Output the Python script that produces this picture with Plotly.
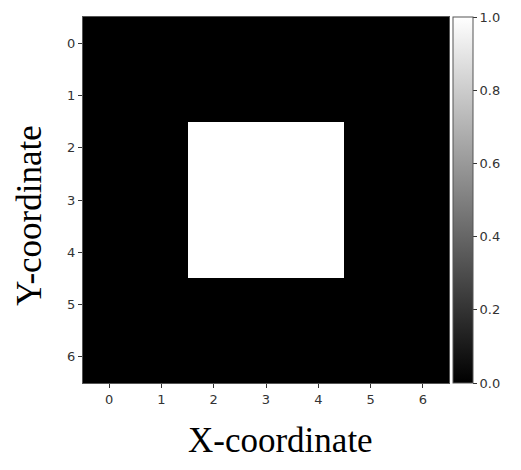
import plotly.graph_objects as go

x_ticks = [0, 1, 2, 3, 4, 5, 6]
y_ticks = [0, 1, 2, 3, 4, 5, 6]
z_values = [
    [0, 0, 0, 0, 0, 0, 0],
    [0, 0, 0, 0, 0, 0, 0],
    [0, 0, 1, 1, 1, 0, 0],
    [0, 0, 1, 1, 1, 0, 0],
    [0, 0, 1, 1, 1, 0, 0],
    [0, 0, 0, 0, 0, 0, 0],
    [0, 0, 0, 0, 0, 0, 0],
]
cbar_ticks = [0.0, 0.2, 0.4, 0.6, 0.8, 1.0]

W, H = 521, 470
L, R, T, B = 83, 449, 17, 383

tickfont = dict(family="DejaVu Sans", size=13, color="#333333")

fig = go.Figure(go.Heatmap(
    z=z_values, x=x_ticks, y=y_ticks,
    colorscale=[[0, "#000000"], [1, "#ffffff"]],
    zmin=0, zmax=1,
    colorbar=dict(
        xref="container", x=453 / W, xanchor="left", xpad=0,
        yref="paper", y=0.5, yanchor="middle", ypad=0,
        thickness=20, thicknessmode="pixels",
        len=B - T, lenmode="pixels",
        outlinewidth=1, outlinecolor="#555555",
        ticks="outside", ticklen=4, tickwidth=1, tickcolor="#333333",
        tickvals=cbar_ticks, ticktext=[f"{v:.1f}" for v in cbar_ticks],
        tickfont=tickfont,
    ),
))

axis_common = dict(
    showgrid=False, zeroline=False,
    ticks="outside", ticklen=4, tickwidth=1, tickcolor="#333333",
    showline=True, linecolor="#555555", linewidth=1, mirror=True,
    tickfont=tickfont,
)
fig.update_xaxes(range=[-0.5, 6.5], tickvals=x_ticks, **axis_common)
fig.update_yaxes(range=[6.5, -0.5], tickvals=y_ticks, **axis_common)

fig.add_annotation(
    text="X-coordinate", xref="paper", yref="paper",
    x=(280 - L) / (R - L), y=(B - 440) / (B - T),
    xanchor="center", yanchor="middle", showarrow=False,
    font=dict(family="Liberation Serif", size=35, color="#000000"),
)
fig.add_annotation(
    text="Y-coordinate", xref="paper", yref="paper",
    x=(29 - L) / (R - L), y=(B - 216) / (B - T),
    xanchor="center", yanchor="middle", showarrow=False, textangle=-90,
    font=dict(family="Liberation Serif", size=35, color="#000000"),
)

fig.update_layout(
    width=W, height=H,
    margin=dict(l=L, r=W - R, t=T, b=H - B, pad=0, autoexpand=False),
    paper_bgcolor="white", plot_bgcolor="white",
    showlegend=False,
)

fig.write_html(
    "out.html",
    config={"displayModeBar": False},
    post_script="document.body.style.margin='0';document.body.style.padding='0';",
)
